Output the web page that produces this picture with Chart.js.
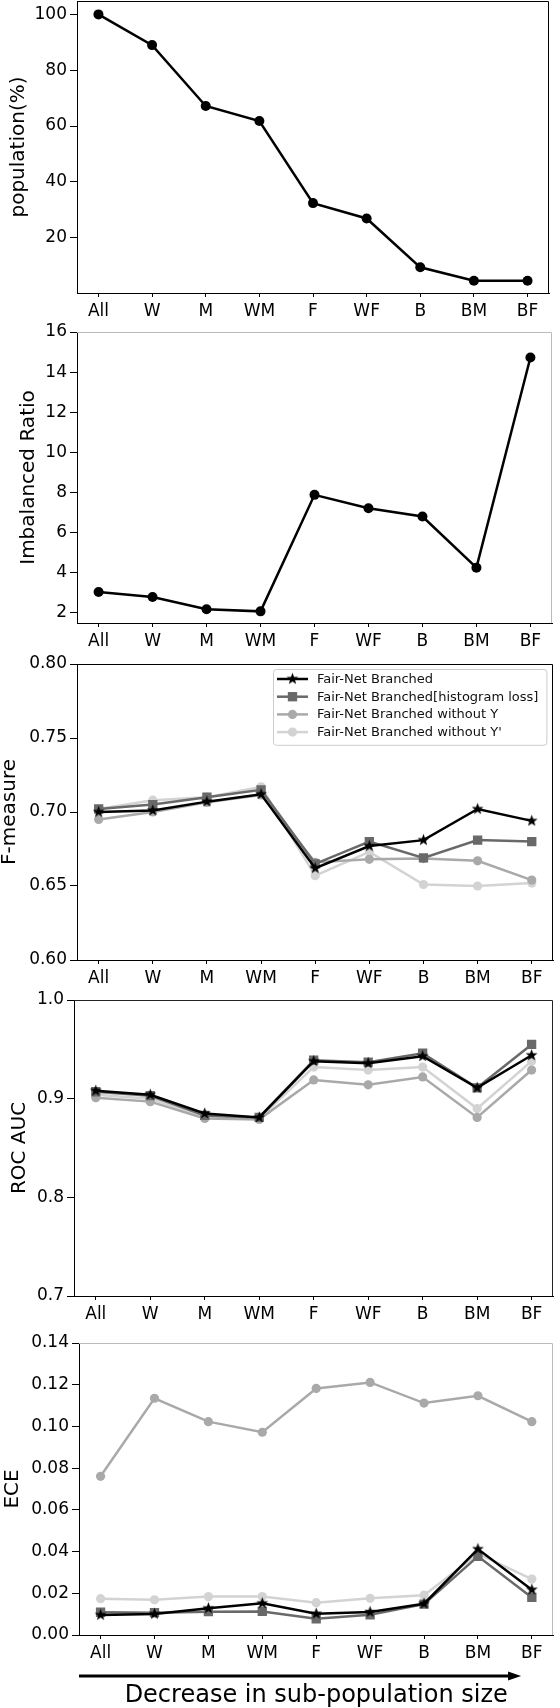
<!DOCTYPE html>
<html><head><meta charset="utf-8">
<script src="https://cdn.jsdelivr.net/npm/chart.js@4.4.0/dist/chart.umd.min.js"></script>
<style>
html,body{margin:0;padding:0;background:#fff;}
body{width:560px;height:1708px;position:relative;overflow:hidden;}
canvas{position:absolute;left:0;}
</style></head><body>
<canvas id="c1"></canvas>
<canvas id="c2"></canvas>
<canvas id="c3"></canvas>
<canvas id="c4"></canvas>
<canvas id="c5"></canvas>
<script>
// ---------- data ----------
const categories = ['All', 'W', 'M', 'WM', 'F', 'WF', 'B', 'BM', 'BF'];

const populationPct = [100, 89.0, 67.2, 61.8, 32.4, 26.9, 9.4, 4.6, 4.6];
const populationTicks = [20, 40, 60, 80, 100];

const imbalancedRatio = [3.04, 2.79, 2.18, 2.07, 7.88, 7.21, 6.80, 4.25, 14.73];
const ratioTicks = [2, 4, 6, 8, 10, 12, 14, 16];

const seriesNames = ['Fair-Net Branched', 'Fair-Net Branched[histogram loss]', 'Fair-Net Branched without Y', "Fair-Net Branched without Y'"];

const fmBranched   = [0.700, 0.701, 0.707, 0.712, 0.662, 0.677, 0.681, 0.702, 0.694];
const fmHistLoss   = [0.702, 0.705, 0.710, 0.715, 0.665, 0.680, 0.669, 0.681, 0.680];
const fmWithoutY   = [0.695, 0.700, 0.7065, 0.7115, 0.666, 0.668, 0.6685, 0.667, 0.654];
const fmWithoutYp  = [0.702, 0.708, 0.710, 0.717, 0.657, 0.673, 0.651, 0.650, 0.652];
const fmTicks = [0.60, 0.65, 0.70, 0.75, 0.80];

const rocBranched  = [0.908, 0.904, 0.885, 0.881, 0.938, 0.936, 0.943, 0.911, 0.944];
const rocHistLoss  = [0.907, 0.903, 0.883, 0.881, 0.939, 0.937, 0.946, 0.911, 0.955];
const rocWithoutY  = [0.901, 0.897, 0.880, 0.879, 0.919, 0.914, 0.922, 0.881, 0.929];
const rocWithoutYp = [0.904, 0.900, 0.881, 0.880, 0.932, 0.929, 0.932, 0.890, 0.938];
const rocTicks = [0.7, 0.8, 0.9, 1.0];

const eceBranched  = [0.0096, 0.0101, 0.0128, 0.0152, 0.0102, 0.0110, 0.0150, 0.0412, 0.0217];
const eceHistLoss  = [0.0109, 0.0107, 0.0112, 0.0113, 0.0078, 0.0097, 0.0148, 0.0377, 0.0180];
const eceWithoutY  = [0.0761, 0.1135, 0.1023, 0.0972, 0.1182, 0.1211, 0.1112, 0.1147, 0.1023];
const eceWithoutYp = [0.0174, 0.0169, 0.0184, 0.0184, 0.0155, 0.0176, 0.0191, 0.0390, 0.0268];
const eceTicks = [0.00, 0.02, 0.04, 0.06, 0.08, 0.10, 0.12, 0.14];

const xAxisCaption = 'Decrease in sub-population size';

// ---------- styling ----------
Chart.defaults.font.family = "'DejaVu Sans', sans-serif";
Chart.defaults.color = '#000';
Chart.defaults.animation = false;

function starImage(outer, inner, color) {
  const s = Math.ceil(outer * 2 + 2);
  const c = document.createElement('canvas');
  c.width = s; c.height = s;
  const g = c.getContext('2d');
  g.fillStyle = color;
  g.beginPath();
  for (let k = 0; k < 10; k++) {
    const r = k % 2 === 0 ? outer : inner;
    const a = -Math.PI / 2 + k * Math.PI / 5;
    const px = s / 2 + r * Math.cos(a), py = s / 2 + r * Math.sin(a);
    if (k === 0) g.moveTo(px, py); else g.lineTo(px, py);
  }
  g.closePath();
  g.fill();
  return c;
}
const STAR = starImage(6.2, 2.6, '#000');

const seriesStyles = [
  {color: '#000000', pointStyle: STAR, radius: 5},
  {color: '#696969', pointStyle: 'rect', radius: 6.6},
  {color: '#a9a9a9', pointStyle: 'circle', radius: 4.6},
  {color: '#d3d3d3', pointStyle: 'circle', radius: 4.6}
];

function toPoints(vals) { return vals.map((v, i) => ({x: i, y: v})); }

function seriesDatasets(list) {
  return list.map((vals, i) => ({
    label: seriesNames[i],
    data: toPoints(vals),
    borderColor: seriesStyles[i].color,
    backgroundColor: seriesStyles[i].color,
    borderWidth: 2.5,
    pointStyle: seriesStyles[i].pointStyle,
    pointRadius: seriesStyles[i].radius,
    pointBorderWidth: 0,
    pointHoverRadius: seriesStyles[i].radius,
    tension: 0,
    showLine: true
  }));
}

const framePlugin = {
  id: 'frame',
  afterDraw(chart, args, opts) {
    const {ctx, chartArea: a} = chart;
    ctx.save();
    ctx.strokeStyle = opts.color || '#000';
    ctx.lineWidth = 1;
    const t = Math.round(a.top) + 0.5, r = Math.round(a.right) - 0.5;
    ctx.beginPath();
    ctx.moveTo(a.left, t);
    ctx.lineTo(r, t);
    ctx.lineTo(r, a.bottom);
    ctx.stroke();
    ctx.restore();
  }
};

const legendPlugin = {
  id: 'boxLegend',
  afterDatasetsDraw(chart, args, opts) {
    if (!opts.show) return;
    const {ctx, chartArea: a} = chart;
    const ds = chart.data.datasets;
    ctx.save();
    ctx.font = "13px 'DejaVu Sans'";
    const maxW = Math.max(...ds.map(d => ctx.measureText(d.label).width));
    const rowH = 17.7;
    const w = 44 + maxW + 8;
    const h = 10 + rowH * (ds.length - 1) + 12.7;
    const right = a.right - 7, top = a.top + 5, left = right - w;
    ctx.beginPath();
    ctx.roundRect(left + 0.5, top + 0.5, w, h, 3);
    ctx.fillStyle = 'rgba(255,255,255,0.85)';
    ctx.fill();
    ctx.strokeStyle = '#cccccc';
    ctx.lineWidth = 1;
    ctx.stroke();
    ds.forEach((d, i) => {
      const y = top + 10 + i * rowH;
      ctx.strokeStyle = d.borderColor;
      ctx.lineWidth = d.borderWidth;
      ctx.beginPath();
      ctx.moveTo(left + 4, y);
      ctx.lineTo(left + 35, y);
      ctx.stroke();
      const cx = left + 19.5;
      ctx.fillStyle = d.backgroundColor;
      if (d.pointStyle instanceof HTMLCanvasElement) {
        ctx.drawImage(d.pointStyle, cx - d.pointStyle.width / 2, y - d.pointStyle.height / 2);
      } else if (d.pointStyle === 'rect') {
        const s = d.pointRadius * Math.SQRT1_2;
        ctx.fillRect(cx - s, y - s, 2 * s, 2 * s);
      } else {
        ctx.beginPath();
        ctx.arc(cx, y, d.pointRadius, 0, Math.PI * 2);
        ctx.fill();
      }
      ctx.fillStyle = '#111';
      ctx.textBaseline = 'middle';
      ctx.textAlign = 'left';
      ctx.fillText(d.label, left + 44, y + 0.5);
    });
    ctx.restore();
  }
};

const arrowPlugin = {
  id: 'arrow',
  afterDraw(chart, args, opts) {
    if (!opts.show) return;
    const {ctx, chartArea: a, scales} = chart;
    const y = a.bottom + 41;
    const x0 = a.left;
    const x1 = scales.x.getPixelForValue(7.8);
    ctx.save();
    ctx.strokeStyle = '#000';
    ctx.fillStyle = '#000';
    ctx.lineWidth = 3;
    ctx.beginPath();
    ctx.moveTo(x0, y);
    ctx.lineTo(x1 - 10, y);
    ctx.stroke();
    ctx.beginPath();
    ctx.moveTo(x1, y);
    ctx.lineTo(x1 - 13, y - 4.5);
    ctx.lineTo(x1 - 13, y + 4.5);
    ctx.closePath();
    ctx.fill();
    ctx.restore();
  }
};

function panel(id, geo, datasets, y) {
  const H = 15 + (geo.B - geo.T) + geo.xH;
  const cv = document.getElementById(id);
  cv.width = 560; cv.height = H;
  cv.style.width = '560px'; cv.style.height = H + 'px';
  cv.style.top = (geo.T - 15) + 'px';
  return new Chart(cv, {
    type: 'line',
    data: {datasets},
    plugins: [framePlugin, legendPlugin, arrowPlugin],
    options: {
      responsive: false,
      animation: false,
      layout: {padding: {left: 0, right: 560 - geo.R, top: 15, bottom: 0}},
      plugins: {
        legend: {display: false},
        tooltip: {enabled: false},
        frame: {color: geo.frame},
        boxLegend: {show: !!geo.legend},
        arrow: {show: !!geo.arrow}
      },
      scales: {
        x: {
          type: 'linear', min: -0.4, max: 8.4,
          afterBuildTicks: ax => { ax.ticks = categories.map((_, i) => ({value: i})); },
          afterFit: s => { s.height = geo.xH; },
          ticks: {callback: v => categories[v], font: {size: 17}, padding: 4, autoSkip: false, maxRotation: 0, minRotation: 0, color: '#000'},
          grid: {drawOnChartArea: false, drawTicks: true, tickLength: 4, color: '#000', lineWidth: 1},
          border: {display: true, color: '#000', width: 1},
          title: geo.xTitle ? {display: true, text: geo.xTitle, font: {size: 24, lineHeight: 1}, padding: {top: 0, bottom: 3}, color: '#000'} : {display: false}
        },
        y: {
          type: 'linear', min: y.min, max: y.max,
          afterBuildTicks: ax => { ax.ticks = y.ticks.map(v => ({value: v})); },
          afterFit: s => { s.width = geo.L; },
          ticks: {callback: v => Number(v).toFixed(y.dec), font: {size: 17}, padding: 3, color: '#000'},
          grid: {drawOnChartArea: false, drawTicks: true, tickLength: 7, color: '#000', lineWidth: 1},
          border: {display: true, color: '#000', width: 1},
          title: {display: true, text: y.title, font: {size: 20, lineHeight: 1}, padding: {top: y.tpad, bottom: 0}, color: '#000'}
        }
      }
    }
  });
}

function singleDataset(vals, label) {
  return [{
    label, data: toPoints(vals), borderColor: '#000', backgroundColor: '#000',
    borderWidth: 2.5, pointStyle: 'circle', pointRadius: 5, pointBorderWidth: 0, tension: 0, showLine: true
  }];
}

panel('c1', {T: 1, B: 293, L: 77, R: 549, xH: 36, frame: '#000'},
  singleDataset(populationPct, 'population(%)'),
  {min: 0.2, max: 104.8, ticks: populationTicks, dec: 0, title: 'population(%)', tpad: 9});

panel('c2', {T: 332, B: 623, L: 77, R: 552, xH: 36, frame: '#bbbbbb'},
  singleDataset(imbalancedRatio, 'Imbalanced Ratio'),
  {min: 1.49, max: 16, ticks: ratioTicks, dec: 0, title: 'Imbalanced Ratio', tpad: 19});

panel('c3', {T: 664, B: 960, L: 77, R: 556, xH: 36, frame: '#000', legend: true},
  seriesDatasets([fmBranched, fmHistLoss, fmWithoutY, fmWithoutYp]),
  {min: 0.6, max: 0.8, ticks: fmTicks, dec: 2, title: 'F-measure', tpad: 0});

panel('c4', {T: 1000, B: 1296, L: 74, R: 558, xH: 36, frame: '#222'},
  seriesDatasets([rocBranched, rocHistLoss, rocWithoutY, rocWithoutYp]),
  {min: 0.7, max: 1.0, ticks: rocTicks, dec: 1, title: 'ROC AUC', tpad: 10});

panel('c5', {T: 1343, B: 1635, L: 79, R: 558, xH: 76, frame: '#bbbbbb', arrow: true, xTitle: xAxisCaption},
  seriesDatasets([eceBranched, eceHistLoss, eceWithoutY, eceWithoutYp]),
  {min: 0, max: 0.14, ticks: eceTicks, dec: 2, title: 'ECE', tpad: 3});
</script>
</body></html>
